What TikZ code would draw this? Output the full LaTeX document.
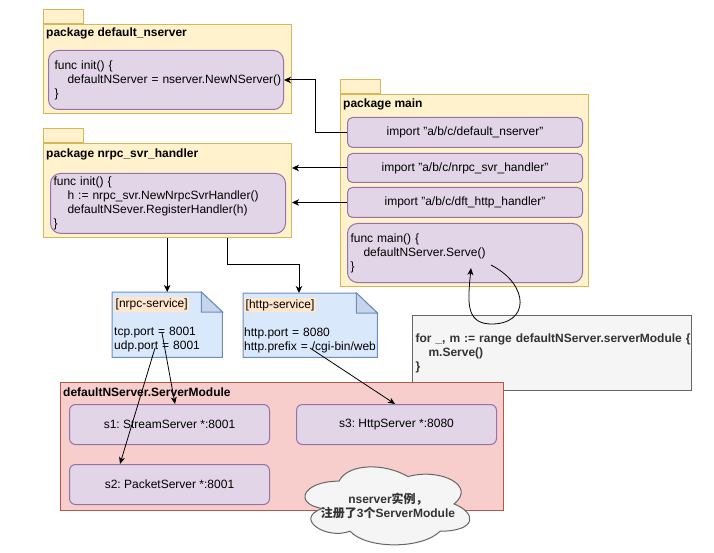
\documentclass[tikz,border=0pt]{standalone}
\usepackage{fontspec}
\setmainfont{Liberation Sans}
\newfontfamily\cjk{Noto Sans CJK SC}
\usetikzlibrary{arrows.meta,calc}
\frenchspacing
\definecolor{pkgfill}{HTML}{FFF2CC}
\definecolor{pkgline}{HTML}{D6B656}
\definecolor{purpfill}{HTML}{E1D5E7}
\definecolor{purpline}{HTML}{9673A6}
\definecolor{bluefill}{HTML}{DAE8FC}
\definecolor{blueline}{HTML}{6C8EBF}
\definecolor{foldfill}{HTML}{C7D5EB}
\definecolor{redfill}{HTML}{F8CECC}
\definecolor{redline}{HTML}{B85450}
\definecolor{grayfill}{HTML}{F5F5F5}
\definecolor{grayline}{HTML}{666666}
\definecolor{graytext}{HTML}{333333}
\definecolor{peach}{HTML}{FFE6CC}
\pgfdeclarelayer{background}
\pgfsetlayers{background,main}
\tikzset{
  pkg/.style={draw=pkgline, fill=pkgfill, line width=1pt, inner sep=0pt, anchor=north west},
  pkgtab/.style={draw=pkgline, fill=pkgfill, line width=1pt, inner sep=0pt, anchor=south west, minimum width=40pt, minimum height=14pt},
  ptitle/.style={anchor=west, inner sep=0pt, font=\fontsize{12}{14}\selectfont\bfseries},
  inbox/.style={draw=purpline, fill=purpfill, line width=1pt, anchor=north west, align=left},
  impbox/.style={draw=purpline, fill=purpfill, line width=1pt, anchor=north west, rounded corners=5pt, minimum width=235pt, minimum height=30pt, inner sep=0pt},
  srvbox/.style={draw=purpline, fill=purpfill, line width=1pt, anchor=north west, rounded corners=6pt, minimum width=200pt, minimum height=40pt, inner sep=0pt},
  notetext/.style={anchor=north west, align=left, inner xsep=2pt, inner ysep=0pt},
  noteshape/.style={draw=blueline, fill=bluefill, line width=1pt, line join=miter},
  foldshape/.style={draw=blueline, fill=foldfill, line width=1pt},
  cloudshape/.style={draw=grayline, fill=grayfill, line width=1pt},
  conn/.style={draw=black, line width=1pt, -{Stealth[length=7pt,width=6.5pt,inset=2pt]}},
  thinarrow/.style={draw=black, line width=0.8pt, -{Stealth[length=7pt,width=6pt,inset=2pt]}}
}
\begin{document}
\begin{tikzpicture}[x=1pt,y=-1pt, font=\fontsize{12}{14}\selectfont]
\useasboundingbox (0,0) rectangle (714,553);

% package default_nserver
\node[pkg, minimum width=248pt, minimum height=89pt] (dnpkg) at (43,24) {};
\node[pkgtab] (dntab) at (dnpkg.north west) {};
\node[ptitle] (dntitle) at (46,33) {package default\_nserver};
\node[inbox, rounded corners=10pt, minimum width=235pt, minimum height=59pt, text width=229pt, inner xsep=3pt] (dninit) at (48,50)
  {\mbox{\hspace*{3pt}func init() \{}\\\mbox{\hspace*{16pt}defaultNServer = nserver.NewNServer()}\\\mbox{\hspace*{3pt}\}}};

% package nrpc_svr_handler
\node[pkg, minimum width=248pt, minimum height=94pt] (nrpcpkg) at (43,143) {};
\node[pkgtab] (nrpctab) at (nrpcpkg.north west) {};
\node[ptitle] (nrpctitle) at (46,154) {package nrpc\_svr\_handler};
\node[inbox, rounded corners=10pt, minimum width=235pt, minimum height=59pt, text width=229pt, inner xsep=3pt] (nrpcinit) at (50,173)
  {\mbox{func init() \{}\\\mbox{\hspace*{14pt}h := nrpc\_svr.NewNrpcSvrHandler()}\\\mbox{\hspace*{14pt}defaultNSever.RegisterHandler(h)}\\\mbox{\}}};

% package main
\node[pkg, minimum width=248pt, minimum height=192pt] (mainpkg) at (340,94) {};
\node[pkgtab] (maintab) at (mainpkg.north west) {};
\node[ptitle] (maintitle) at (343,104) {package main};
\node[impbox] (imp1) at (347,117) {import "a/b/c/default\_nserver"};
\node[impbox, minimum height=29pt] (imp2) at (347,153) {import "a/b/c/nrpc\_svr\_handler"};
\node[impbox] (imp3) at (347,187) {import "a/b/c/dft\_http\_handler"};
\node[inbox, rounded corners=10pt, minimum width=235pt, minimum height=59pt, text width=229pt, inner xsep=3pt] (mainfn) at (347,223)
  {\mbox{func main() \{}\\\mbox{\hspace*{13pt}defaultNServer.Serve()}\\\mbox{\}}};

% notes
\node[notetext, minimum width=110pt, minimum height=65pt, text width=106pt] (n1) at (112,292)
  {{\setlength\fboxsep{1.5pt}\colorbox{peach}{[nrpc-service]}}\\[14pt]tcp.port = 8001\\udp.port = 8001};
\node[notetext, minimum width=134pt, minimum height=64pt, text width=132pt, inner xsep=1pt] (n2) at (243,293)
  {{\setlength\fboxsep{1.5pt}\colorbox{peach}{[http-service]}}\\[14pt]\mbox{http.port = 8080}\\\mbox{http.prefix = /cgi-bin/web}};
\begin{pgfonlayer}{background}
  \path[noteshape] (n1.north west) -- ($(n1.north east)+(-21pt,0)$) -- ($(n1.north east)+(0,-20pt)$) -- (n1.south east) -- (n1.south west) -- cycle;
  \path[foldshape] ($(n1.north east)+(-21pt,0)$) -- ($(n1.north east)+(-21pt,-20pt)$) -- ($(n1.north east)+(0,-20pt)$) -- cycle;
  \path[noteshape] (n2.north west) -- ($(n2.north east)+(-21pt,0)$) -- ($(n2.north east)+(0,-20pt)$) -- (n2.south east) -- (n2.south west) -- cycle;
  \path[foldshape] ($(n2.north east)+(-21pt,0)$) -- ($(n2.north east)+(-21pt,-20pt)$) -- ($(n2.north east)+(0,-20pt)$) -- cycle;
\end{pgfonlayer}

% loop note
\node[draw=grayline, fill=grayfill, line width=1pt, anchor=north west, minimum width=279pt, minimum height=75pt, text width=275pt, inner xsep=2pt, align=left, text=graytext, font=\fontsize{12}{14}\selectfont\bfseries] (loop) at (412,315)
  {\mbox{\hspace*{1pt}for \_, m := range defaultNServer.serverModule \{}\\\mbox{\hspace*{14pt}m.Serve()}\\\mbox{\hspace*{1pt}\}}};

% server module
\node[draw=redline, fill=redfill, line width=1pt, anchor=north west, minimum width=443pt, minimum height=128pt, inner sep=0pt] (sm) at (60,382) {};
\node[ptitle] (smtitle) at (63,392) {defaultNServer.ServerModule};
\node[srvbox] (s1) at (69,404) {s1: StreamServer *:8001};
\node[srvbox] (s3) at (296,404) {s3: HttpServer *:8080};
\node[srvbox] (s2) at (69,464) {s2: PacketServer *:8001};

% cloud
\begin{scope}[shift={(293,458.4)}, x=184pt, y=-91pt]
  \path[cloudshape] (0.25,0.25) .. controls (0.05,0.25) and (0,0.5) .. (0.16,0.55)
    .. controls (0,0.66) and (0.18,0.9) .. (0.31,0.8)
    .. controls (0.4,1) and (0.7,1) .. (0.8,0.8)
    .. controls (1,0.8) and (1,0.6) .. (0.875,0.5)
    .. controls (1,0.3) and (0.8,0.1) .. (0.625,0.2)
    .. controls (0.5,0.05) and (0.3,0.05) .. (0.25,0.25) -- cycle;
\end{scope}
\node[inner sep=0pt, align=center, text=graytext, font=\fontsize{12}{14}\selectfont\bfseries] (cl) at (388,506)
  {nserver{\cjk 实例，}\\{\cjk 注册了}3{\cjk 个}ServerModule};

% connectors
\draw[conn] (imp1.west) -- ++(-32pt,0) |- (dninit.east);
\draw[conn] (imp2.west) -- (imp2.west -| nrpcpkg.east);
\draw[conn] (imp3.west) -- (imp3.west -| nrpcpkg.east);
\draw[conn] (nrpcpkg.south -| n1.north) -- (n1.north);
\draw[conn] ($(nrpcpkg.south)+(60pt,0)$) -- ++(0,-26pt) -| ($(n2.north west)+(56pt,0)$);

\coordinate (t1) at ($(n1.north west)+(50pt,-41pt)$);
\coordinate (t2) at ($(n1.north west)+(43pt,-56pt)$);
\coordinate (t3) at ($(n2.north west)+(67pt,-55pt)$);
\draw[thinarrow] (t1) -- ($(s1.north west)+(106pt,0)$);
\draw[thinarrow] (t2) -- ($(s2.north west)+(51pt,0)$);
\draw[thinarrow] (t3) -- ($(s3.north west)+(99pt,0)$);

\coordinate (ls) at ($(mainfn.north west)+(144pt,-42pt)$);
\coordinate (le) at ($(mainfn.north west)+(124pt,-45pt)$);
\draw[thinarrow] (ls) .. controls (530,285) and (530,325) .. (490,324) .. controls (465,323) and (468,300) .. (le);
\end{tikzpicture}
\end{document}
